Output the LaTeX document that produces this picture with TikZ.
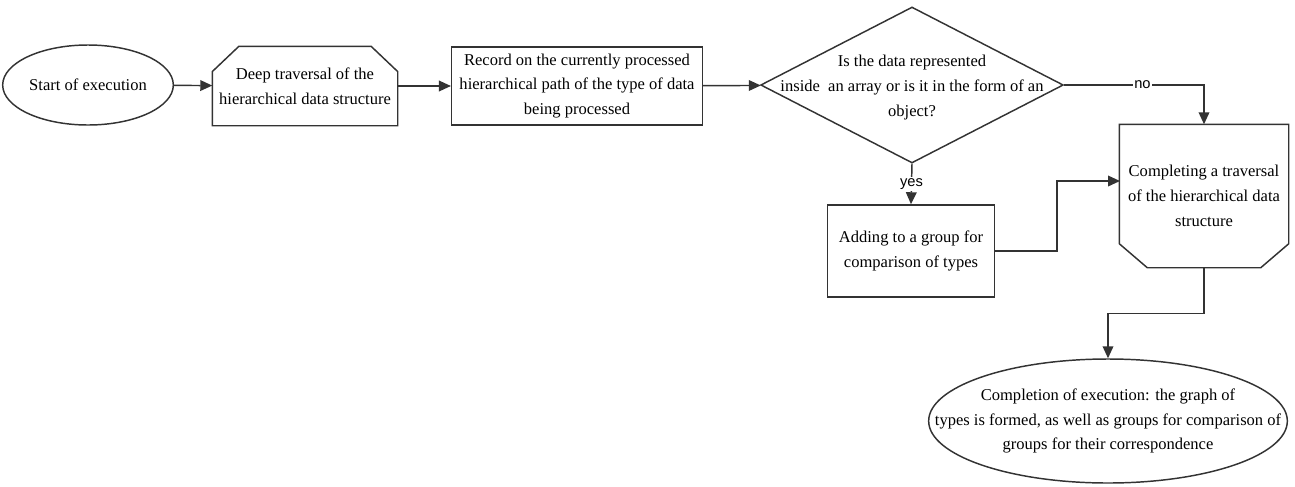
\documentclass[tikz,border=0pt]{standalone}
\usepackage{fontspec}
\setmainfont{Liberation Serif}
\newfontfamily\lblfont{Liberation Sans}
\usetikzlibrary{arrows.meta,shapes.geometric}
\tikzset{>/.tip={Triangle[length=9pt,width=8pt]},
  txt/.style={font=\fontsize{12.4}{18.5}\selectfont, align=center},
  term/.style={txt, draw, ellipse, inner sep=0pt},
  proc/.style={txt, draw, rectangle, inner sep=0pt},
  loopbox/.style={txt, rectangle, inner sep=0pt},
  decision/.style={draw, diamond, inner sep=0pt},
  yn/.style={font=\lblfont\fontsize{11}{13}\selectfont, fill=white, inner sep=1pt}}

\begin{document}
\begin{tikzpicture}[x=0.75pt, y=-0.75pt, line width=1.1pt, draw=black!80]
\useasboundingbox (0,0) rectangle (1295,486);
\node[term, minimum width=128pt, minimum height=60pt] (start) at (88,85) {Start of execution};
\node[loopbox, minimum width=138pt, minimum height=58.5pt] (deep) at (305,86) {Deep traversal of the\\hierarchical data structure};
\node[proc, minimum width=188pt, minimum height=58.5pt] (rec) at (577,86) {Record on the currently processed\\hierarchical path of the type of data\\being processed};
\node[decision, minimum width=227pt, minimum height=117pt, label={[txt, yshift=-2pt]center:Is the data represented\\inside~ an array or is it in the form of an\\object?}] (cond) at (912,85) {};
\node[proc, minimum width=125pt, minimum height=69pt] (add) at (911,251) {Adding to a group for\\comparison of types};
\node[loopbox, minimum width=126pt, minimum height=106.5pt] (comp) at (1204,196) {Completing a traversal\\of the hierarchical data\\structure};
\node[term, minimum width=269pt, minimum height=93pt, label={[txt]center:Completion of execution: the graph of\\types is formed, as well as groups for comparison of\\groups for their correspondence}] (end) at (1108,421) {};
\coordinate (compin) at (1120,181);

% chamfered outlines
\draw (deep.south west) -- ([yshift=-19pt]deep.north west) -- ([xshift=20pt]deep.north west)
  -- ([xshift=-20pt]deep.north east) -- ([yshift=-19pt]deep.north east) -- (deep.south east) -- cycle;
\draw (comp.north west) -- ([yshift=18pt]comp.south west) -- ([xshift=21pt]comp.south west)
  -- ([xshift=-21pt]comp.south east) -- ([yshift=18pt]comp.south east) -- (comp.north east) -- cycle;

\draw[->] (start) to (deep);
\draw[->] (deep) to (rec);
\draw[->] (rec) to (cond);
\draw[->] (cond.east) -| node[yn, pos=0.28] {no} (comp.north);
\draw[->] (cond.south) to node[yn] {yes} (add.north);
\draw[->] (add.east) -- ++(62,0) |- (compin);
\draw[->] (comp.south) -- ++(0,46) -| (end.north);
\end{tikzpicture}
\end{document}
